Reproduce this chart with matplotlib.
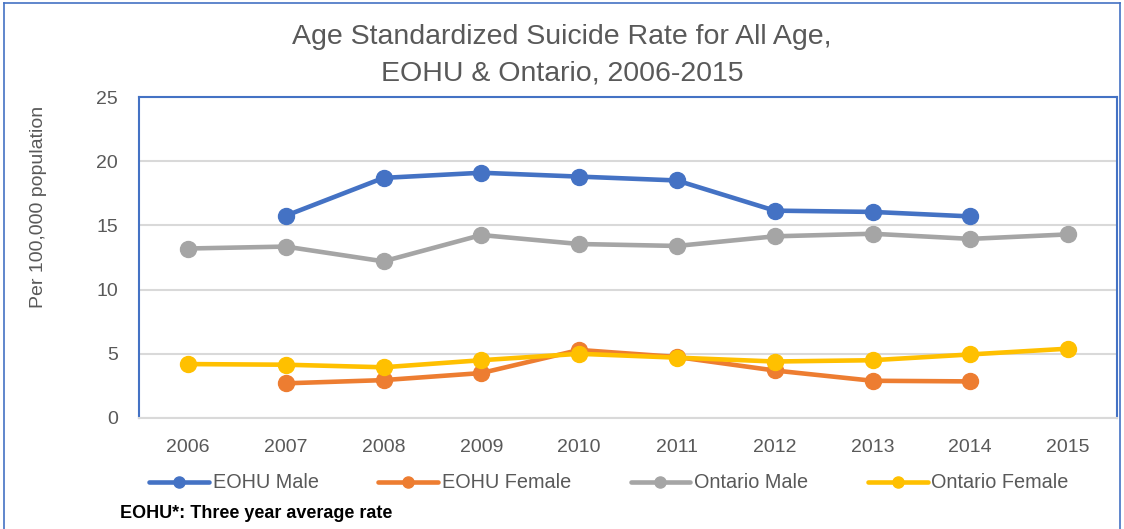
import matplotlib
matplotlib.use("Agg")
import matplotlib.pyplot as plt
from matplotlib.lines import Line2D
import numpy as np

plt.rcParams['font.family'] = ['Liberation Sans', 'DejaVu Sans']

years = ["2006", "2007", "2008", "2009", "2010", "2011", "2012", "2013", "2014", "2015"]
eohu_male = [np.nan, 15.75, 18.7, 19.1, 18.8, 18.5, 16.15, 16.05, 15.7, np.nan]
eohu_female = [np.nan, 2.7, 2.95, 3.5, 5.3, 4.75, 3.7, 2.9, 2.85, np.nan]
ontario_male = [13.2, 13.35, 12.2, 14.25, 13.55, 13.4, 14.15, 14.35, 13.95, 14.3]
ontario_female = [4.2, 4.15, 3.95, 4.5, 5.0, 4.7, 4.4, 4.5, 4.95, 5.4]

series = [
    ("EOHU Male", eohu_male, "#4472C4"),
    ("EOHU Female", eohu_female, "#ED7D31"),
    ("Ontario Male", ontario_male, "#A5A5A5"),
    ("Ontario Female", ontario_female, "#FFC000"),
]

txt = "#595959"
fig = plt.figure(figsize=(11.24, 5.29), dpi=100)
ax = fig.add_axes([139/1124, 1-418/529, (1117-139)/1124, (418-97)/529])

x = np.arange(len(years))
for name, vals, col in series:
    ax.plot(x, vals, color=col, lw=3.3, marker='o', ms=11.5, label=name,
            solid_capstyle='round', zorder=3)

ax.set_xlim(-0.5, len(years) - 0.5)
ax.set_ylim(0, 25)
ax.set_yticks([0, 5, 10, 15, 20, 25])
ax.set_xticks(x)
ax.set_xticklabels(years)
ax.tick_params(axis='both', length=0, labelsize=14, colors=txt)
ax.tick_params(axis='y', pad=15)
ax.tick_params(axis='x', pad=15)
ax.grid(axis='y', color='#D9D9D9', lw=1.5, zorder=0)
ax.set_axisbelow(True)
for s in ['left', 'top', 'right']:
    ax.spines[s].set_color('#4472C4')
    ax.spines[s].set_linewidth(1.5)
ax.spines['bottom'].set_color('#D9D9D9')
ax.spines['bottom'].set_linewidth(1.5)

ax.set_ylabel("Per 100,000 population", fontsize=14, color=txt)
ax.yaxis.set_label_coords((47-139)/978, (418-207)/321)

fig.text(0.5, 1-37/529, "Age Standardized Suicide Rate for All Age,", ha='center', va='center',
         fontsize=20.5, color=txt)
fig.text(0.5, 1-73/529, "EOHU & Ontario, 2006-2015", ha='center', va='center',
         fontsize=20.5, color=txt)

handles = [Line2D([0], [0], color=c, lw=3.3, marker='o', ms=8, solid_capstyle='round')
           for _, _, c in series]
leg = fig.legend(handles, [n for n, _, _ in series], ncol=4, loc='center',
                 bbox_to_anchor=(609/1124, 1-483/529), frameon=False, fontsize=14.3,
                 handlelength=3.0, handletextpad=0.2, columnspacing=3.0, borderaxespad=0)
for t in leg.get_texts():
    t.set_color(txt)

fig.text(120/1124, 1-514/529, "EOHU*: Three year average rate", ha='left', va='center',
         fontsize=13, fontweight='bold', color='black')

# outer chart border
fig.add_artist(Line2D([4/1124, 4/1124], [0, 1-3/529], color='#4472C4', lw=1.2, transform=fig.transFigure))
fig.add_artist(Line2D([1120/1124, 1120/1124], [0, 1-3/529], color='#4472C4', lw=1.2, transform=fig.transFigure))
fig.add_artist(Line2D([4/1124, 1120/1124], [1-3/529, 1-3/529], color='#4472C4', lw=1.2, transform=fig.transFigure))

fig.savefig("out.png", dpi=100)
